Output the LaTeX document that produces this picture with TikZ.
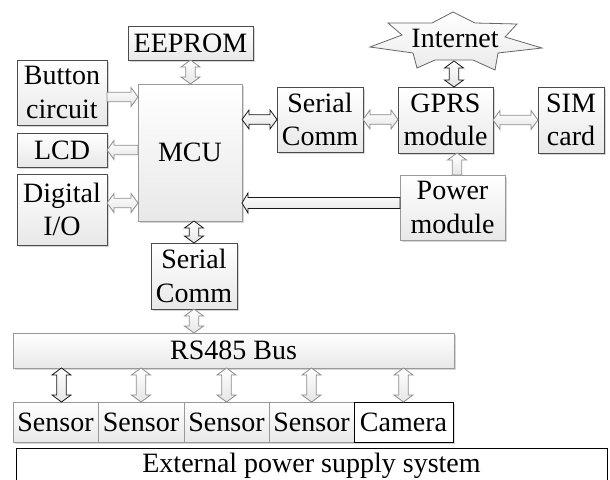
\documentclass[tikz,border=0pt]{standalone}
\usepackage{fontspec}
\setmainfont{Liberation Serif}
\usetikzlibrary{calc,shadows}

\tikzset{
  blk/.style={draw=black!70, line width=0.6pt, top color=white, bottom color=black!9,
    inner sep=0pt, outer sep=0pt, align=center,
    font=\fontsize{21}{25}\selectfont,
    general shadow={shadow xshift=1.3pt, shadow yshift=-1.3pt, fill=black!16}},
  blklight/.style={blk, draw=black!40},
  blkplain/.style={blk, top color=white, bottom color=white, draw=black, general shadow={}},
  lbl/.style={inner sep=0pt, font=\fontsize{21}{25}\selectfont},
  frame/.style={draw=black, line width=0.6pt, fill=white},
  arr/.style={draw=black!45, line width=0.6pt, top color=white, bottom color=black!10, line join=miter},
  arrdark/.style={arr, draw=black!90},
  starshape/.style={draw=black!60, line width=0.6pt, top color=white, bottom color=black!8},
}

% box from its corners (in pixel units) with a name
\newcommand\blkat[6]{\node[#1, minimum width={(#4-#2)*0.75pt}, minimum height={(#5-#3)*0.75pt}] (#6) at ({(#2+#4)/2},{(#3+#5)/2})}

% arrow geometry: head half width, shaft half width, head length
\def\ah{9.5}
\def\as{4.7}
\def\al{7}

% vertical double arrow, #2 top end, #3 bottom end
\newcommand\vdbl[3]{\draw[#1] (#2) -- ($(#2)+(\ah,\al)$) -- ($(#2)+(\as,\al)$) -- ($(#3)+(\as,-\al)$) -- ($(#3)+(\ah,-\al)$) -- (#3) -- ($(#3)+(-\ah,-\al)$) -- ($(#3)+(-\as,-\al)$) -- ($(#2)+(-\as,\al)$) -- ($(#2)+(-\ah,\al)$) -- cycle;}
% horizontal double arrow, #2 left end, #3 right end
\newcommand\hdbl[3]{\draw[#1] (#2) -- ($(#2)+(\al,-\ah)$) -- ($(#2)+(\al,-\as)$) -- ($(#3)+(-\al,-\as)$) -- ($(#3)+(-\al,-\ah)$) -- (#3) -- ($(#3)+(-\al,\ah)$) -- ($(#3)+(-\al,\as)$) -- ($(#2)+(\al,\as)$) -- ($(#2)+(\al,\ah)$) -- cycle;}
% single arrow pointing right: tail #2, head #3
\newcommand\rarrow[3]{\draw[#1] ($(#2)+(0,-\as)$) -- ($(#3)+(-\al,-\as)$) -- ($(#3)+(-\al,-\ah)$) -- (#3) -- ($(#3)+(-\al,\ah)$) -- ($(#3)+(-\al,\as)$) -- ($(#2)+(0,\as)$) -- cycle;}
% single arrow pointing left: head #2, tail #3
\newcommand\larrow[3]{\draw[#1] (#2) -- ($(#2)+(\al,-\ah)$) -- ($(#2)+(\al,-\as)$) -- ($(#3)+(0,-\as)$) -- ($(#3)+(0,\as)$) -- ($(#2)+(\al,\as)$) -- ($(#2)+(\al,\ah)$) -- cycle;}
% single arrow pointing up: head #2, tail #3
\newcommand\uarrow[3]{\draw[#1] (#2) -- ($(#2)+(\ah,\al)$) -- ($(#2)+(\as,\al)$) -- ($(#3)+(\as,0)$) -- ($(#3)+(-\as,0)$) -- ($(#2)+(-\as,\al)$) -- ($(#2)+(-\ah,\al)$) -- cycle;}

\begin{document}
\begin{tikzpicture}[x=0.75pt, y=-0.75pt]
\useasboundingbox (0,0) rectangle (610,479);
\clip (0,0) rectangle (610,479);

% controller side
\blkat{blk}{128}{26}{253}{60}{eeprom} {EEPROM};
\blkat{blk}{17}{60}{107}{125}{btn} {Button\\circuit};
\blkat{blk}{17}{133}{107}{167}{lcd} {LCD};
\blkat{blk}{17}{174}{107}{245}{dio} {Digital\\I/O};
\blkat{blklight}{138}{84}{242}{221}{mcu} {MCU};
\blkat{blk}{151}{243}{237}{309}{serb} {Serial\\Comm};

% communication side
\blkat{blk}{277}{87}{363}{152}{serr} {Serial\\Comm};
\blkat{blk}{398}{87}{493}{153}{gprs} {GPRS\\module};
\blkat{blk}{538}{87}{604}{153}{sim} {SIM\\card};
\blkat{blklight}{400}{175}{505}{240}{pwr} {Power\\module};

% internet cloud
\draw[starshape] (370,47) -- (402,35) -- (388,23) -- (432,23) -- (453,12) -- (475,23)
  -- (517,24) -- (505,37) -- (542,48) -- (498,53) -- (495,70) -- (473,60)
  -- (435,60) -- (417,68) -- (413,53) -- cycle;
\node[lbl] (inet) at (455,38) {Internet};
\coordinate (inetb) at (454,61);

% field bus and devices
\blkat{blklight}{13}{333}{454}{368}{bus} {RS485 Bus};
\blkat{blklight}{13}{402}{98}{442}{s1} {Sensor};
\blkat{blklight}{98}{402}{184}{442}{s2} {Sensor};
\blkat{blklight}{184}{402}{269}{442}{s3} {Sensor};
\blkat{blklight}{269}{402}{354}{442}{s4} {Sensor};
\blkat{blkplain}{354}{402}{453}{442}{cam} {Camera};

% supply frame, open towards the lower edge
\draw[frame] (16,492) -- (16,448) -- (607,448) -- (607,492);
\node[lbl, anchor=base] (ext) at (311.5,472) {External power supply system};

% helper coordinates for connector rows
\coordinate (yb) at (0,97);
\coordinate (yd) at (0,203);
\coordinate (yp) at (0,203);
\coordinate (pg) at (457,0);
\coordinate (s1a) at ($(s1.north)+(6,0)$);

% connectors
\vdbl{arr}{eeprom.south}{eeprom.south |- mcu.north}
\rarrow{arr}{btn.east |- yb}{mcu.west |- yb}
\larrow{arr}{lcd.east}{lcd.east -| mcu.west}
\hdbl{arr}{dio.east |- yd}{mcu.west |- yd}
\hdbl{arrdark}{mcu.east |- serr.west}{serr.west}
\hdbl{arr}{serr.east}{serr.east -| gprs.west}
\hdbl{arr}{gprs.east}{gprs.east -| sim.west}
\vdbl{arrdark}{inetb}{inetb |- gprs.north}
\uarrow{arr}{pg |- gprs.south}{pg |- pwr.north}
{\def\ah{10}\def\as{5.5}\def\al{6}
 \larrow{arrdark}{mcu.east |- yp}{pwr.west |- yp}}
\vdbl{arrdark}{mcu.south -| serb.north}{serb.north}
\vdbl{arr}{serb.south}{serb.south |- bus.north}
\vdbl{arrdark}{bus.south -| s1a}{s1a}
\vdbl{arr}{bus.south -| s2.north}{s2.north}
\vdbl{arr}{bus.south -| s3.north}{s3.north}
\vdbl{arr}{bus.south -| s4.north}{s4.north}
\vdbl{arr}{bus.south -| cam.north}{cam.north}
\end{tikzpicture}
\end{document}
